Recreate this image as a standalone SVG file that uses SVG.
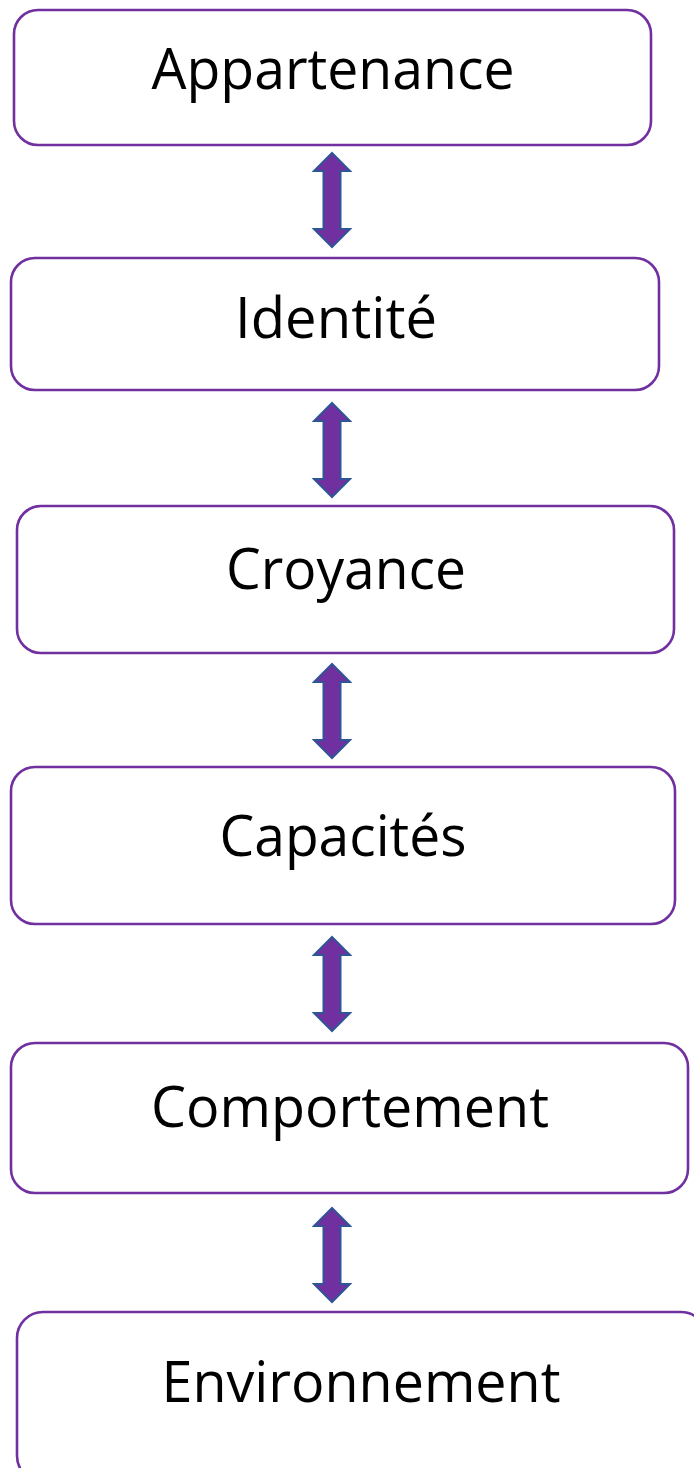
<svg xmlns="http://www.w3.org/2000/svg" xmlns:xlink="http://www.w3.org/1999/xlink" width="694" height="1468" viewBox="0 0 694 1468">
<style>
.box{fill:#fff;stroke:#7030A0;stroke-width:2.6}
.lbl{font-family:"Open Sans","Liberation Sans",sans-serif;font-size:57px;fill:#000;text-anchor:middle}
.arr{fill:#7030A0;stroke:#2F5597;stroke-width:2;stroke-linejoin:miter}
</style>
<defs>
<path id="dbl" class="arr" d="M0,0 L18,18 L8.5,18 L8.5,76 L18,76 L0,94 L-18,76 L-8.5,76 L-8.5,18 L-18,18 Z"/>
</defs>
<rect width="694" height="1468" fill="#fff"/>
<g id="connectors">
<use xlink:href="#dbl" transform="translate(332,153)"/>
<use xlink:href="#dbl" transform="translate(332,403)"/>
<use xlink:href="#dbl" transform="translate(332,664)"/>
<use xlink:href="#dbl" transform="translate(332,937)"/>
<use xlink:href="#dbl" transform="translate(332,1208)"/>
</g>
<g id="appartenance">
<rect class="box" x="14" y="10" width="637" height="135" rx="24"/>
<text class="lbl" x="333" y="89" textLength="363" lengthAdjust="spacingAndGlyphs">Appartenance</text>
</g>
<g id="identite">
<rect class="box" x="11" y="258" width="648" height="132" rx="24"/>
<text class="lbl" x="336" y="338" textLength="202" lengthAdjust="spacingAndGlyphs">Identité</text>
</g>
<g id="croyance">
<rect class="box" x="17" y="506" width="657" height="147" rx="24"/>
<text class="lbl" x="346" y="589" textLength="240" lengthAdjust="spacingAndGlyphs">Croyance</text>
</g>
<g id="capacites">
<rect class="box" x="11" y="767" width="664" height="157" rx="24"/>
<text class="lbl" x="343" y="856" textLength="247" lengthAdjust="spacingAndGlyphs">Capacités</text>
</g>
<g id="comportement">
<rect class="box" x="11" y="1043" width="677" height="150" rx="24"/>
<text class="lbl" x="350" y="1127" textLength="398" lengthAdjust="spacingAndGlyphs">Comportement</text>
</g>
<g id="environnement">
<rect class="box" x="17" y="1312" width="690" height="170" rx="26"/>
<text class="lbl" x="361" y="1402" textLength="399" lengthAdjust="spacingAndGlyphs">Environnement</text>
</g>
</svg>
